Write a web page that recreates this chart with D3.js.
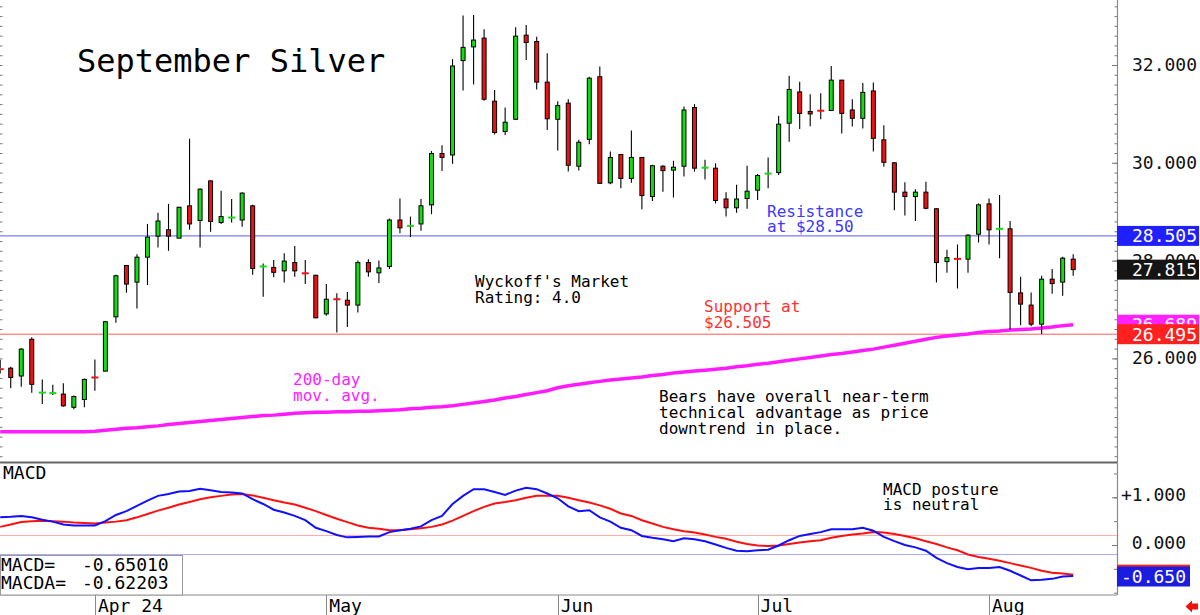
<!DOCTYPE html>
<html>
<head>
<meta charset="utf-8">
<script src="https://cdn.jsdelivr.net/npm/d3@7"></script>
<style>
html, body { margin: 0; padding: 0; background: #fff; }
svg { display: block; font-family: "DejaVu Sans Mono", monospace; }
</style>
</head>
<body>
<div id="chart"></div>
<script>
'use strict';

//daily bars, index 0..102 (Apr 1 = 9, Aug 13 = 102)
var opens = [25.79,25.80,25.64,26.39,25.29,25.28,25.27,25.00,25.16,25.62,
  25.74,26.85,27.90,27.56,28.07,28.50,28.63,28.46,29.12,28.82,
  29.63,28.78,28.87,28.83,29.12,27.87,27.86,27.79,27.96,27.75,
  27.70,26.91,27.22,27.19,27.09,27.96,27.75,27.88,28.83,28.70,
  28.75,29.14,30.19,30.16,32.09,32.37,32.55,31.26,30.64,30.89,
  32.61,32.48,31.65,30.89,31.22,29.93,30.48,31.76,29.59,30.17,
  29.68,30.11,29.31,29.93,29.85,29.93,31.13,29.89,29.89,29.26,
  29.08,29.27,29.44,29.77,29.80,30.81,31.45,31.05,31.07,31.07,
  31.69,31.08,30.91,31.47,30.47,30.00,29.40,29.31,29.40,29.06,
  27.98,28.04,28.03,28.54,29.16,28.63,28.65,27.34,27.09,26.70,
  27.62,27.56,28.03];
var highs = [25.97,25.83,26.21,26.43,25.57,25.46,25.49,25.24,25.59,25.98,
  26.76,27.71,27.91,28.13,28.75,28.98,29.16,29.10,30.49,29.48,
  29.64,29.43,29.26,29.40,29.14,27.94,28.01,28.15,28.30,28.01,
  27.71,27.52,27.33,27.36,28.00,28.03,28.00,28.86,29.27,28.90,
  29.26,30.24,30.36,32.12,33.01,33.02,32.73,31.49,31.13,32.77,
  32.82,32.58,32.24,31.26,31.30,30.47,31.76,31.97,30.23,30.18,
  30.66,30.12,29.96,29.95,30.04,31.15,31.20,30.06,29.99,29.40,
  29.55,29.94,29.77,30.11,30.96,31.78,31.66,31.40,31.42,31.98,
  31.70,31.30,31.63,31.64,30.77,30.01,29.60,29.46,29.61,29.07,
  28.22,28.33,28.54,29.17,29.27,29.34,28.81,27.67,27.35,27.69,
  27.83,28.08,28.13];
var lows = [25.69,25.39,25.42,25.30,25.07,25.25,25.01,24.96,25.00,25.34,
  25.73,26.73,27.34,27.02,27.50,28.27,28.20,28.45,28.63,28.27,
  28.59,28.75,28.78,28.69,27.71,27.26,27.66,27.55,27.67,27.52,
  26.82,26.87,26.53,26.64,26.94,27.67,27.54,27.83,28.56,28.48,
  28.61,28.95,29.83,29.98,31.48,31.60,31.27,30.58,30.57,30.88,
  32.10,31.50,30.67,30.25,29.82,29.84,30.38,29.57,29.56,29.48,
  29.59,29.05,29.22,29.41,29.29,29.72,29.82,29.66,29.17,28.90,
  28.98,29.06,29.24,29.48,29.75,30.43,30.69,30.75,30.89,31.06,
  30.60,30.74,30.70,30.23,29.92,29.03,28.92,28.81,29.05,27.55,
  27.75,27.43,27.75,28.37,28.33,28.05,26.59,26.68,26.66,26.50,
  27.32,27.28,27.69];
var closes = [25.77,25.61,26.19,25.47,25.31,25.30,25.03,25.22,25.57,25.60,
  26.75,27.69,27.52,28.07,28.48,28.81,28.50,29.09,28.75,29.46,
  28.80,28.90,28.89,29.38,27.84,27.89,27.76,27.99,27.79,27.73,
  26.83,27.21,27.20,27.09,27.96,27.77,27.85,28.83,28.67,28.72,
  29.12,30.19,30.11,31.98,32.36,32.51,31.30,30.62,30.83,32.59,
  32.46,31.65,30.90,31.17,29.95,30.42,31.73,29.58,30.11,29.68,
  30.11,29.33,29.94,29.84,29.91,31.08,29.89,29.91,29.23,29.08,
  29.26,29.42,29.74,29.79,30.79,31.50,31.01,31.00,31.06,31.69,
  31.01,30.91,31.44,30.50,30.01,29.40,29.31,29.40,29.07,27.96,
  28.06,28.03,28.52,29.14,28.63,28.67,27.35,27.11,26.70,27.62,
  27.53,28.05,27.815];
var ma200 = [24.50,24.50,24.50,24.50,24.50,24.50,24.50,24.50,24.50,24.51,
  24.53,24.55,24.57,24.58,24.60,24.62,24.65,24.67,24.69,24.71,
  24.73,24.75,24.77,24.79,24.81,24.83,24.84,24.86,24.88,24.89,
  24.90,24.90,24.91,24.91,24.92,24.92,24.93,24.94,24.95,24.97,
  24.98,25.00,25.01,25.03,25.06,25.09,25.12,25.15,25.19,25.22,
  25.26,25.30,25.34,25.40,25.44,25.47,25.50,25.53,25.56,25.58,
  25.60,25.62,25.65,25.67,25.70,25.72,25.74,25.76,25.78,25.80,
  25.83,25.85,25.88,25.90,25.93,25.96,25.99,26.02,26.05,26.08,
  26.10,26.13,26.16,26.19,26.23,26.27,26.31,26.35,26.39,26.43,
  26.46,26.48,26.50,26.53,26.55,26.56,26.58,26.59,26.60,26.62,
  26.64,26.67,26.689];
var macd = [0.58,0.59,0.61,0.58,0.53,0.49,0.43,0.41,0.41,0.41,
  0.50,0.63,0.71,0.82,0.93,1.03,1.07,1.12,1.13,1.18,
  1.15,1.11,1.10,1.08,0.96,0.86,0.74,0.68,0.61,0.52,
  0.36,0.29,0.21,0.16,0.17,0.18,0.18,0.27,0.31,0.34,
  0.39,0.52,0.61,0.86,1.03,1.17,1.17,1.11,1.05,1.14,
  1.20,1.17,1.08,0.98,0.81,0.71,0.73,0.58,0.49,0.36,
  0.31,0.19,0.15,0.12,0.08,0.14,0.12,0.08,0.01,-0.06,
  -0.12,-0.13,-0.11,-0.10,-0.01,0.10,0.19,0.23,0.27,0.33,
  0.33,0.33,0.36,0.30,0.17,0.08,0.00,-0.05,-0.12,-0.27,
  -0.38,-0.46,-0.51,-0.48,-0.48,-0.46,-0.54,-0.64,-0.74,-0.73,
  -0.71,-0.66,-0.650];
var macdSignal = [0.38,0.43,0.48,0.50,0.51,0.50,0.49,0.47,0.46,0.45,
  0.47,0.49,0.52,0.58,0.65,0.72,0.78,0.85,0.90,0.96,
  1.00,1.03,1.06,1.07,1.04,0.99,0.94,0.89,0.85,0.78,
  0.71,0.63,0.55,0.48,0.41,0.36,0.34,0.31,0.31,0.33,
  0.35,0.38,0.43,0.51,0.61,0.71,0.80,0.87,0.90,0.94,
  0.99,1.03,1.03,1.03,0.99,0.94,0.89,0.83,0.76,0.66,
  0.61,0.52,0.45,0.38,0.33,0.29,0.26,0.22,0.17,0.13,
  0.07,0.02,-0.01,-0.02,-0.01,0.02,0.05,0.08,0.10,0.15,
  0.19,0.22,0.24,0.27,0.26,0.23,0.19,0.14,0.08,0.02,
  -0.05,-0.11,-0.20,-0.25,-0.29,-0.33,-0.38,-0.43,-0.48,-0.54,
  -0.58,-0.60,-0.622];

var monthTickIdx = [9, 31, 53, 72, 94];
var monthTickLabels = ['Apr 24', 'May', 'Jun', 'Jul', 'Aug'];
var priceTicks = [26, 28, 30, 32];
var macdTicks = [0, 1];
var macdBands = [0.2, -0.2];
var resistance = 28.505, support = 26.495;
var lastPrice = 27.815, lastMa = 26.689;
var lastMacd = -0.650, lastSignal = -0.622;
var macdReadout = [['MACD=', '-0.65010'], ['MACDA=', '-0.62203']];

//configuration
var config = {};
config.width = 1200;
config.height = 615;
config.plotRight = 1117;
config.priceBottom = 462;
config.macdTop = 463;
config.macdBottom = 595;
config.bodyWidth = 4;
config.up = '#11dd11';
config.down = '#ee1111';

var svg = d3.select('#chart').append('svg')
  .attr('width', config.width)
  .attr('height', config.height);

svg.append('rect').attr('width', config.width).attr('height', config.height).attr('fill', '#fff');

var n = closes.length;
var x = d3.scaleLinear().domain([0, n - 1]).range([0.2, 1073.2]);
var y = d3.scaleLinear().domain([26, 32]).range([358.4, 65]);
var ym = d3.scaleLinear().domain([0, 1]).range([545, 497.3]);

var defs = svg.append('defs');
defs.append('clipPath').attr('id', 'clipPrice').append('rect')
  .attr('x', 0).attr('y', 0).attr('width', config.plotRight).attr('height', config.priceBottom);
defs.append('clipPath').attr('id', 'clipMacd').append('rect')
  .attr('x', 0).attr('y', config.macdTop).attr('width', config.plotRight)
  .attr('height', config.macdBottom - config.macdTop);

//---------------- price panel ----------------
var price = svg.append('g').attr('clip-path', 'url(#clipPrice)');

price.append('line')
  .attr('x1', 0).attr('x2', config.plotRight)
  .attr('y1', y(resistance)).attr('y2', y(resistance))
  .attr('stroke', '#5a5aff').attr('stroke-width', 1);
price.append('line')
  .attr('x1', 0).attr('x2', config.plotRight)
  .attr('y1', y(support)).attr('y2', y(support))
  .attr('stroke', '#ff5a5a').attr('stroke-width', 1);

//200 day moving average
price.append('path')
  .datum(ma200)
  .attr('fill', 'none')
  .attr('stroke', '#ff1aff')
  .attr('stroke-width', 3.5)
  .attr('d', d3.line().x(function(d, i){ return x(i); }).y(function(d){ return y(d); }));

//candles
var bars = d3.range(n).map(function(i){
  return {i: i, o: opens[i], h: highs[i], l: lows[i], c: closes[i]};
});

var candle = price.selectAll('g.candle')
  .data(bars)
  .enter()
    .append('g')
    .attr('class', 'candle');

candle.append('line')
  .attr('x1', function(d){ return x(d.i); })
  .attr('x2', function(d){ return x(d.i); })
  .attr('y1', function(d){ return y(d.h); })
  .attr('y2', function(d){ return y(d.l); })
  .attr('stroke', '#000')
  .attr('stroke-width', 1.1);

candle.each(function(d){
  var g = d3.select(this);
  var col = d.c >= d.o ? config.up : config.down;
  var top = y(Math.max(d.o, d.c)), bot = y(Math.min(d.o, d.c));
  if (bot - top < 2) {
    g.append('line')
      .attr('x1', x(d.i) - 3.5).attr('x2', x(d.i) + 3.5)
      .attr('y1', (top + bot) / 2).attr('y2', (top + bot) / 2)
      .attr('stroke', col).attr('stroke-width', 2);
  } else {
    g.append('rect')
      .attr('x', x(d.i) - config.bodyWidth / 2)
      .attr('y', top)
      .attr('width', config.bodyWidth)
      .attr('height', bot - top)
      .attr('fill', col)
      .attr('stroke', '#000')
      .attr('stroke-width', 1);
  }
});

//text notes
function note(lines, px, py, lh, color, size){
  var t = svg.append('text')
    .attr('x', px).attr('y', py)
    .attr('fill', color)
    .style('font-size', size + 'px');
  lines.forEach(function(s, k){
    t.append('tspan').attr('x', px).attr('y', py + k * lh).text(s);
  });
}

svg.append('text')
  .attr('x', 77).attr('y', 72)
  .style('font-size', '32px')
  .attr('fill', '#000')
  .text('September Silver');

note(["Wyckoff's Market", 'Rating: 4.0'], 475, 287, 15.5, '#000', 16);
note(['Resistance', 'at $28.50'], 767, 216.5, 15.7, '#3a3aff', 16);
note(['Support at', '$26.505'], 704, 311.5, 16, '#ff3030', 16);
note(['200-day', 'mov. avg.'], 293, 385, 16, '#ff22ff', 16);
note(['Bears have overall near-term', 'technical advantage as price', 'downtrend in place.'], 659, 401.5, 16, '#000', 16);

//price axis
var axisX = config.plotRight;
svg.append('line')
  .attr('x1', axisX + 0.5).attr('x2', axisX + 0.5)
  .attr('y1', 0).attr('y2', config.macdBottom)
  .attr('stroke', '#8a8a8a').attr('stroke-width', 1.2);

var minorTicks = d3.range(24, 33.3, 0.2);
var pAxisMinor = svg.append('g').attr('transform', 'translate(' + axisX + ',0)')
  .call(d3.axisRight(y).tickValues(minorTicks).tickSize(-2.5).tickFormat(''));
var pAxisLeft = svg.append('g').attr('transform', 'translate(0,0)')
  .call(d3.axisRight(y).tickValues(minorTicks).tickSize(2.5).tickFormat(''));
var pAxis = svg.append('g').attr('transform', 'translate(' + axisX + ',0)')
  .call(d3.axisRight(y).tickValues(priceTicks).tickSize(-5).tickFormat(d3.format('.3f')));
[pAxisMinor, pAxisLeft, pAxis].forEach(function(a){
  a.select('.domain').remove();
  a.selectAll('line').attr('stroke', '#777');
});
pAxis.selectAll('text')
  .attr('x', 80)
  .attr('dy', '0.3em')
  .attr('text-anchor', 'end')
  .attr('fill', '#111')
  .style('font-family', '"DejaVu Sans Mono", monospace')
  .style('font-size', '18px');

//value boxes on the price axis
var boxes = [
  {v: resistance, fill: '#2020ff'},
  {v: lastPrice, fill: '#151515'},
  {v: lastMa, fill: '#ff22ff'},
  {v: support, fill: '#ff2020'}
];
boxes.forEach(function(b){
  svg.append('rect')
    .attr('x', axisX).attr('y', y(b.v) - 10)
    .attr('width', 82).attr('height', 20)
    .attr('fill', b.fill);
  svg.append('text')
    .attr('x', axisX + 80).attr('y', y(b.v))
    .attr('dy', '0.36em')
    .attr('text-anchor', 'end')
    .attr('fill', '#fff')
    .style('font-size', '18px')
    .text(b.v.toFixed(3));
});

//---------------- MACD panel ----------------
svg.append('line')
  .attr('x1', 0).attr('x2', axisX)
  .attr('y1', config.priceBottom + 0.5).attr('y2', config.priceBottom + 0.5)
  .attr('stroke', '#666').attr('stroke-width', 1.8);
svg.append('line')
  .attr('x1', 0).attr('x2', axisX)
  .attr('y1', config.macdBottom).attr('y2', config.macdBottom)
  .attr('stroke', '#8a8a8a').attr('stroke-width', 1.2);

var mp = svg.append('g').attr('clip-path', 'url(#clipMacd)');

mp.selectAll('line.band')
  .data(macdBands)
  .enter()
    .append('line')
    .attr('class', 'band')
    .attr('x1', 0).attr('x2', axisX)
    .attr('y1', function(d){ return ym(d); })
    .attr('y2', function(d){ return ym(d); })
    .attr('stroke', function(d){ return d > 0 ? '#ffaaaa' : '#aaaaff'; })
    .attr('stroke-width', 1);

var mline = d3.line().x(function(d, i){ return x(i); }).y(function(d){ return ym(d); });
mp.append('path').datum(macdSignal)
  .attr('fill', 'none').attr('stroke', '#ff1010').attr('stroke-width', 2)
  .attr('d', mline);
mp.append('path').datum(macd)
  .attr('fill', 'none').attr('stroke', '#1010ff').attr('stroke-width', 2)
  .attr('d', mline);

svg.append('text')
  .attr('x', 3).attr('y', 479)
  .style('font-size', '18px')
  .text('MACD');

note(['MACD posture', 'is neutral'], 883, 494.5, 15.7, '#000', 16);

//readout box
svg.append('rect')
  .attr('x', 0.5).attr('y', 555.5)
  .attr('width', 182).attr('height', config.macdBottom - 555.5)
  .attr('fill', '#fff').attr('stroke', '#999');
macdReadout.forEach(function(r, k){
  svg.append('text').attr('x', 1).attr('y', 571 + k * 18.3)
    .style('font-size', '18px').text(r[0]);
  svg.append('text').attr('x', 82).attr('y', 571 + k * 18.3)
    .style('font-size', '18px').text(r[1]);
});

//MACD axis
var mAxisMinor = svg.append('g').attr('transform', 'translate(' + axisX + ',0)')
  .call(d3.axisRight(ym).tickValues(d3.range(-1, 1.6, 0.5)).tickSize(-3).tickFormat(''));
var mAxis = svg.append('g').attr('transform', 'translate(' + axisX + ',0)')
  .call(d3.axisRight(ym).tickValues(macdTicks).tickSize(-5)
    .tickFormat(function(d){ return (d > 0 ? '+' : '') + d.toFixed(3); }));
[mAxisMinor, mAxis].forEach(function(a){
  a.select('.domain').remove();
  a.selectAll('line').attr('stroke', '#777');
});
mAxis.selectAll('text')
  .attr('x', 69)
  .attr('dy', '0.2em')
  .attr('text-anchor', 'end')
  .attr('fill', '#111')
  .style('font-family', '"DejaVu Sans Mono", monospace')
  .style('font-size', '18px');

svg.append('rect')
  .attr('x', axisX).attr('y', ym(lastSignal) - 10)
  .attr('width', 73).attr('height', 20).attr('fill', '#ff2020');
svg.append('rect')
  .attr('x', axisX).attr('y', ym(lastMacd) - 9.5)
  .attr('width', 73).attr('height', 20).attr('fill', '#1c1ce0');
svg.append('text')
  .attr('x', axisX + 69).attr('y', ym(lastMacd))
  .attr('dy', '0.38em')
  .attr('text-anchor', 'end')
  .attr('fill', '#fff')
  .style('font-size', '18px')
  .text(lastMacd.toFixed(3));

//---------------- date axis ----------------
var months = svg.selectAll('g.month')
  .data(monthTickIdx)
  .enter()
    .append('g')
    .attr('class', 'month');
months.append('line')
  .attr('x1', function(d){ return Math.round(x(d)) + 0.5; })
  .attr('x2', function(d){ return Math.round(x(d)) + 0.5; })
  .attr('y1', config.macdBottom).attr('y2', config.height)
  .attr('stroke', '#8a8a8a');
months.append('text')
  .attr('x', function(d){ return x(d) + 3; })
  .attr('y', 611.5)
  .style('font-size', '18px')
  .attr('fill', '#000')
  .text(function(d, i){ return monthTickLabels[i]; });

//little red arrow bottom right
svg.append('path')
  .attr('d', 'M1198,603.5 L1192,603.5 L1192,600.5 L1185.5,606.5 L1192,612.5 L1192,609.5 L1198,609.5 Z')
  .attr('fill', '#ee1111');
</script>
</body>
</html>
